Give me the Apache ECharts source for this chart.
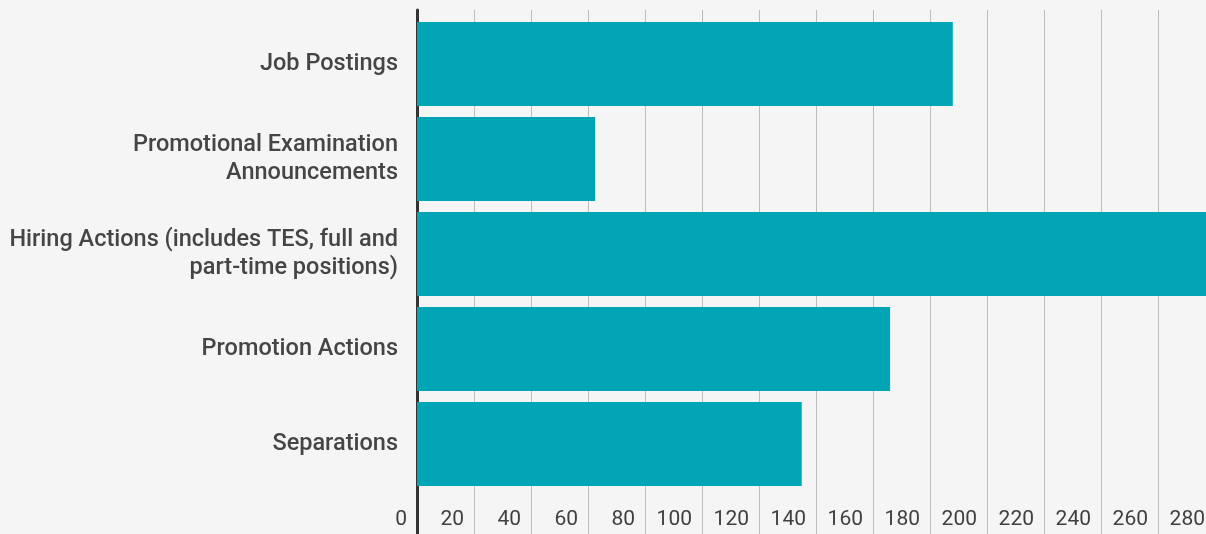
<!DOCTYPE html>
<html>
<head>
<meta charset="utf-8">
<script src="https://cdn.jsdelivr.net/npm/echarts@6/dist/echarts.min.js"></script>
<style>
html,body{margin:0;padding:0;background:#f5f5f5;}
#c{width:1206px;height:534px;}
</style>
</head>
<body>
<div id="c"></div>
<script>
const categories = [
  "Job Postings",
  "Promotional Examination\nAnnouncements",
  "Hiring Actions (includes TES, full and\npart-time positions)",
  "Promotion Actions",
  "Separations"
];
const values = [188, 62.5, 290, 166, 135];
const xTicks = [0, 20, 40, 60, 80, 100, 120, 140, 160, 180, 200, 220, 240, 260, 280, 300];

const chart = echarts.init(document.getElementById('c'), null, {renderer: 'canvas'});
const textColor = '#454545';
chart.setOption({
  backgroundColor: '#f5f5f5',
  animation: false,
  grid: [
    {left: 417, right: -66, top: 16.5, bottom: 42.5, outerBoundsMode: 'none', containLabel: false},
    {left: 417, right: -66, top: 10, bottom: 0, outerBoundsMode: 'none', containLabel: false}
  ],
  xAxis: [
    {
      gridIndex: 0, type: 'value', min: 0, max: 300, interval: 20,
      axisLine: {show: false}, axisTick: {show: false}, axisLabel: {show: false}, splitLine: {show: false}
    },
    {
      gridIndex: 1, type: 'value', min: xTicks[0], max: xTicks[xTicks.length - 1], interval: 20,
      position: 'bottom',
      axisLine: {show: false}, axisTick: {show: false},
      splitLine: {show: true, lineStyle: {color: '#bdbdbd', width: 1}},
      axisLabel: {
        inside: true, margin: 4, align: 'right', padding: [0, 10, 0, 0],
        fontFamily: 'Roboto', fontSize: 21, color: '#404040',
        showMaxLabel: false
      }
    }
  ],
  yAxis: [
    {
      gridIndex: 0, type: 'category', data: categories, inverse: true,
      axisLine: {show: false}, axisTick: {show: false}, splitLine: {show: false},
      axisLabel: {
        margin: 19, align: 'right', fontFamily: 'Roboto', fontSize: 23.5, fontWeight: 500,
        color: textColor, lineHeight: 28.5
      }
    },
    {
      gridIndex: 1, type: 'value', min: 0, max: 1,
      axisLine: {show: true, lineStyle: {color: '#333333', width: 3}},
      axisTick: {show: false}, axisLabel: {show: false}, splitLine: {show: false}
    }
  ],
  series: [{
    type: 'bar', xAxisIndex: 0, yAxisIndex: 0,
    data: values, barCategoryGap: '11.6%',
    itemStyle: {color: '#02a5b5'},
    silent: true
  }]
});
</script>
</body>
</html>
